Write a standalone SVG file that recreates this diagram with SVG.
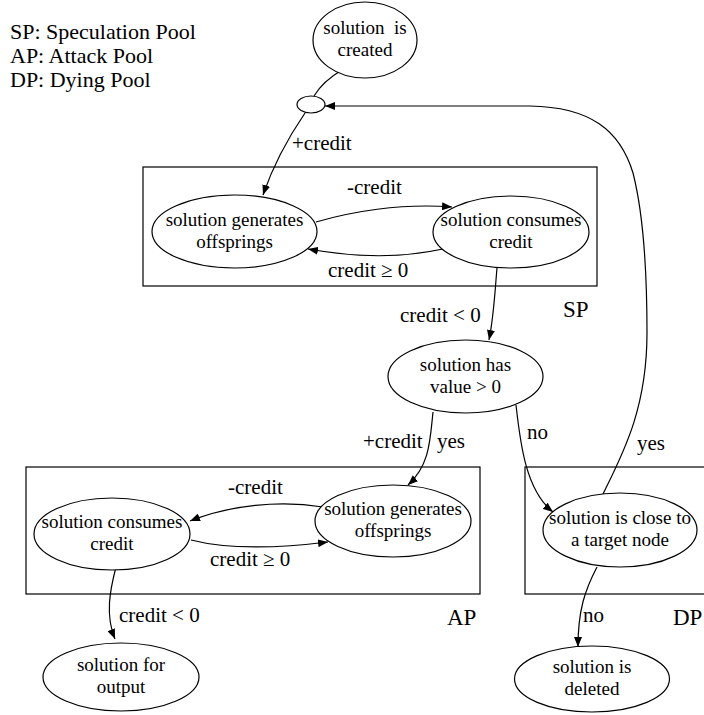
<svg xmlns="http://www.w3.org/2000/svg" width="704" height="715" viewBox="0 0 704 715">
  <style>
    text { font-family: "Liberation Serif", "Times New Roman", serif; fill: #000; }
    .legend { font-size: 22px; }
    .node ellipse { fill: #fff; stroke: #000; stroke-width: 1.2; }
    .node text { font-size: 19px; text-anchor: middle; }
    .pool rect { fill: none; stroke: #000; stroke-width: 1.2; }
    .pool text { font-size: 23px; }
    .edge path { fill: none; stroke: #000; stroke-width: 1.2; }
    .edge text { font-size: 21px; }
  </style>
  <defs>
    <marker id="arrow" viewBox="0 0 10 8" refX="10" refY="4" markerWidth="10" markerHeight="8" markerUnits="userSpaceOnUse" orient="auto">
      <path d="M0,0 L10,4 L0,8 Z" fill="#000"/>
    </marker>
  </defs>

  <rect width="704" height="715" fill="#fff"/>

  <!-- legend -->
  <g id="legend" class="legend">
    <text x="10" y="39">SP: Speculation Pool</text>
    <text x="10" y="63">AP: Attack Pool</text>
    <text x="10" y="87">DP: Dying Pool</text>
  </g>

  <!-- pools -->
  <g id="pool-sp" class="pool">
    <rect x="143" y="167" width="454" height="119"/>
    <text x="563" y="317">SP</text>
  </g>
  <g id="pool-ap" class="pool">
    <rect x="26" y="467" width="454" height="127"/>
    <text x="447" y="625">AP</text>
  </g>
  <g id="pool-dp" class="pool">
    <rect x="525" y="467" width="200" height="127"/>
    <text x="673" y="625">DP</text>
  </g>

  <!-- connectors -->
  <g id="edges" class="edge">
    <path d="M342,70 C330,77 320,86 314,96"/>
    <path d="M305,113 C290,135 275,160 263,195" marker-end="url(#arrow)"/>
    <text x="292" y="150">+credit</text>

    <path d="M316,222 C350,212 400,203 452,207" marker-end="url(#arrow)"/>
    <text x="347" y="194">-credit</text>
    <path d="M443,249 C400,258 360,258 308,249" marker-end="url(#arrow)"/>
    <text x="328" y="277">credit ≥ 0</text>

    <path d="M497,268 C495,290 494,315 489,340" marker-end="url(#arrow)"/>
    <text x="400" y="322">credit &lt; 0</text>

    <path d="M433,412 C430,440 430,465 408,485" marker-end="url(#arrow)"/>
    <text x="363" y="448">+credit</text>
    <text x="437" y="448">yes</text>

    <path d="M516,405 C520,440 525,490 553,512" marker-end="url(#arrow)"/>
    <text x="527" y="439">no</text>

    <path d="M603,494 C622,455 647,410 647,333 C647,280 645,220 633,173 C620,130 590,107 530,106 L325,106" marker-end="url(#arrow)"/>
    <text x="637" y="450">yes</text>

    <path d="M323,507 C280,500 230,505 190,521" marker-end="url(#arrow)"/>
    <text x="228" y="494">-credit</text>
    <path d="M191,540 C230,550 280,548 328,542" marker-end="url(#arrow)"/>
    <text x="210" y="566">credit ≥ 0</text>

    <path d="M116,567 C110,590 105,615 115,639" marker-end="url(#arrow)"/>
    <text x="119" y="622">credit &lt; 0</text>

    <path d="M597,567 C585,590 578,610 578,647" marker-end="url(#arrow)"/>
    <text x="583" y="622">no</text>
  </g>

  <!-- nodes -->
  <g id="created" class="node">
    <ellipse cx="365" cy="40" rx="52" ry="38"/>
    <text x="365" y="34" xml:space="preserve">solution  is</text>
    <text x="365" y="56">created</text>
  </g>
  <g id="junction" class="node">
    <ellipse cx="311" cy="104.5" rx="14" ry="8.5"/>
  </g>
  <g id="sp-generates" class="node">
    <ellipse cx="234.5" cy="231.5" rx="82.5" ry="36.5"/>
    <text x="234.5" y="225.5">solution generates</text>
    <text x="234.5" y="247.5">offsprings</text>
  </g>
  <g id="sp-consumes" class="node">
    <ellipse cx="511" cy="232" rx="78" ry="36"/>
    <text x="511" y="226">solution consumes</text>
    <text x="511" y="248">credit</text>
  </g>
  <g id="has-value" class="node">
    <ellipse cx="465.5" cy="376.5" rx="77.5" ry="36.5"/>
    <text x="465.5" y="370.5">solution has</text>
    <text x="465.5" y="392.5">value &gt; 0</text>
  </g>
  <g id="ap-consumes" class="node">
    <ellipse cx="112" cy="534" rx="78" ry="36"/>
    <text x="112" y="528">solution consumes</text>
    <text x="112" y="550">credit</text>
  </g>
  <g id="ap-generates" class="node">
    <ellipse cx="393" cy="521" rx="78" ry="36"/>
    <text x="393" y="515">solution generates</text>
    <text x="393" y="537">offsprings</text>
  </g>
  <g id="output" class="node">
    <ellipse cx="121" cy="677" rx="78" ry="34"/>
    <text x="121" y="671">solution for</text>
    <text x="121" y="693">output</text>
  </g>
  <g id="dp-close" class="node">
    <ellipse cx="620" cy="530" rx="77" ry="37"/>
    <text x="620" y="524">solution is close to</text>
    <text x="620" y="546">a target node</text>
  </g>
  <g id="deleted" class="node">
    <ellipse cx="592" cy="679" rx="77.5" ry="33"/>
    <text x="592" y="673">solution is</text>
    <text x="592" y="695">deleted</text>
  </g>
</svg>
